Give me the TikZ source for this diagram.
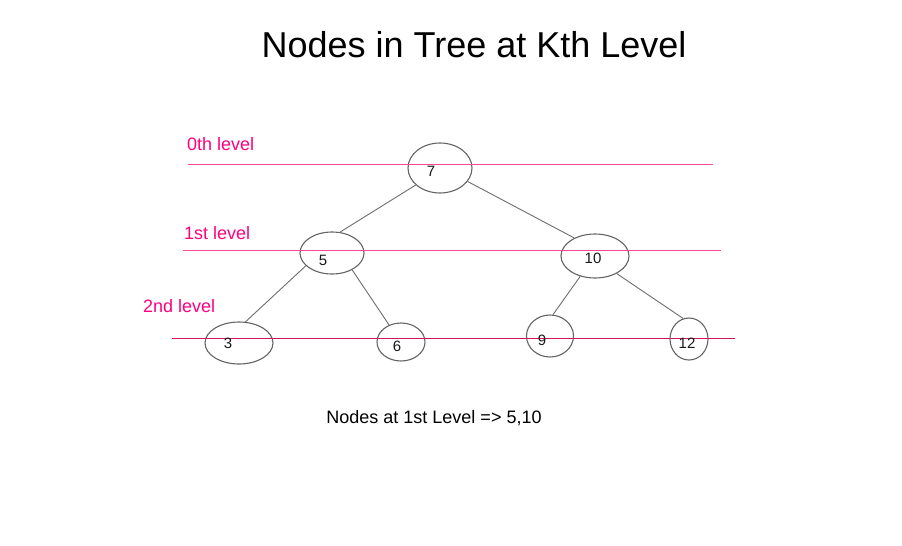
\documentclass[tikz,border=0pt]{standalone}
\usepackage{fontspec}
\setmainfont{Liberation Sans}
\usetikzlibrary{shapes.geometric}
\definecolor{lvltext}{RGB}{255,0,128}
\definecolor{lvlline}{RGB}{255,70,150}
\definecolor{lvlline2}{RGB}{210,20,90}
\definecolor{edgegray}{RGB}{110,110,110}
\definecolor{ringgray}{RGB}{100,100,100}
\tikzset{
  treenode/.style={ellipse, draw=ringgray, line width=1.1pt, inner sep=0pt},
  numlabel/.style={font=\fontsize{15}{17}\selectfont, text=black!90, inner sep=0pt},
  lvllabel/.style={font=\fontsize{18}{20}\selectfont, text=lvltext, inner sep=0pt, anchor=base west},
  edge/.style={draw=edgegray, line width=0.9pt},
  levelline/.style={draw=lvlline, line width=1pt},
}
\begin{document}
\begin{tikzpicture}[x=1pt,y=-1pt]
\useasboundingbox[fill=white] (0,0) rectangle (902,546);
% title
\node[anchor=base, inner sep=0pt, font=\fontsize{36}{40}\selectfont] (title) at (474,57) {Nodes in Tree at Kth Level};
% level labels and lines
\node[lvllabel] (l0) at (187,150) {0th level};
\node[lvllabel] (l1) at (184,239) {1st level};
\node[lvllabel] (l2) at (143,312) {2nd level};
\coordinate (a0) at (188,164); \coordinate (b0) at (713,164);
\coordinate (a1) at (183,250); \coordinate (b1) at (721,250);
\coordinate (a2) at (172,338); \coordinate (b2) at (735,338);
% nodes
\node[treenode, minimum width=64pt, minimum height=50pt] (n7) at (440,168) {};
\node[treenode, minimum width=64pt, minimum height=42pt] (n5) at (332,253) {};
\node[treenode, minimum width=68pt, minimum height=44pt] (n10) at (595,256) {};
\node[treenode, minimum width=68pt, minimum height=42pt] (n3) at (239,343) {};
\node[treenode, minimum width=48pt, minimum height=38pt] (n6) at (401,342) {};
\node[treenode, minimum width=47pt, minimum height=42pt] (n9) at (550,336) {};
\node[treenode, minimum width=38pt, minimum height=42pt] (n12) at (689,339) {};
% level lines (over the rings)
\draw[levelline] (a0) -- (b0);
\draw[levelline] (a1) -- (b1);
\draw[levelline, draw=lvlline2] (a2) -- (b2);
% number labels
\node[numlabel] (t7) at (431,171) {7};
\node[numlabel] (t5) at (323,260) {5};
\node[numlabel] (t10) at (593,258) {10};
\node[numlabel] (t3) at (228,343) {3};
\node[numlabel] (t6) at (397,346) {6};
\node[numlabel] (t9) at (542,340) {9};
\node[numlabel] (t12) at (687,343) {12};
% edges
\draw[edge] (n7.215) -- (n5.69);
\draw[edge] (n7.334) -- (n10.139);
\draw[edge] (n5.206) -- (n3.73);
\draw[edge] (n5.320) -- (n6.125);
\draw[edge] (n10.234) -- (n9.82);
\draw[edge] (n10.321) -- (n12.106);
% caption
\node[anchor=base, inner sep=0pt, font=\fontsize{18}{20}\selectfont] (cap) at (434,423) {Nodes at 1st Level => 5,10};
\end{tikzpicture}
\end{document}
